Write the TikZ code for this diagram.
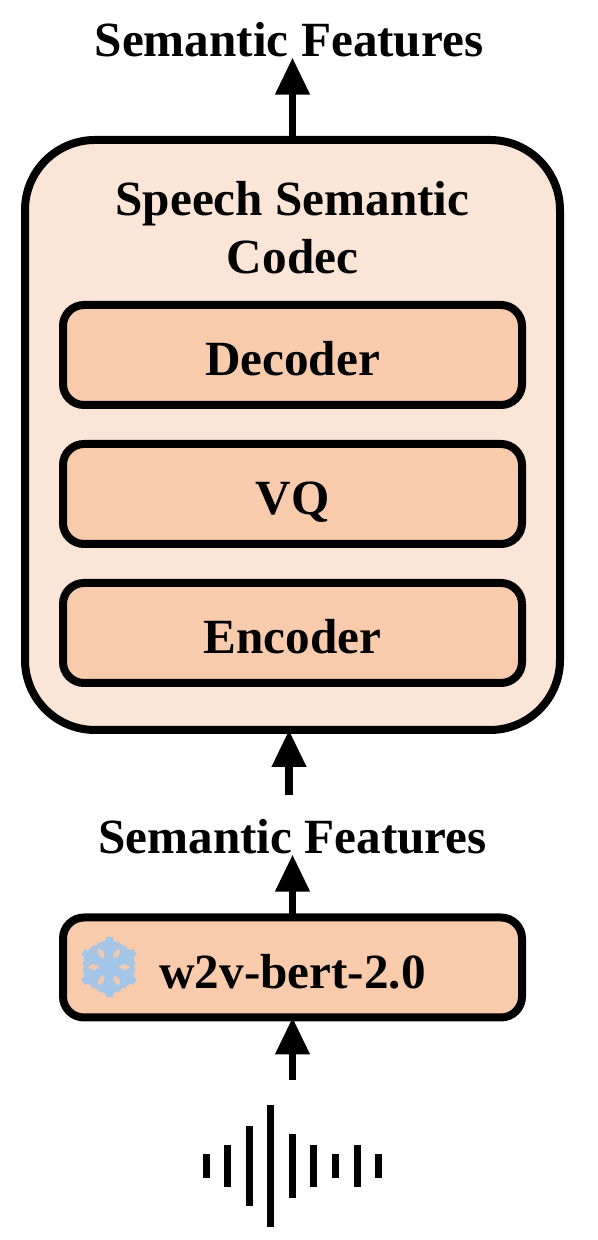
\documentclass[tikz,border=0pt]{standalone}
\usepackage{fontspec}
\setmainfont{Liberation Serif}
\usetikzlibrary{arrows.meta,positioning,calc}
\definecolor{codecBg}{RGB}{251,229,214}
\definecolor{blockBg}{RGB}{248,203,173}
\definecolor{flakeB}{RGB}{163,198,232}
\definecolor{flakeG}{RGB}{186,196,210}

\begin{document}
\begin{tikzpicture}[
  codec/.style={draw=black, line width=0.16cm, rounded corners=1.4cm, fill=codecBg, minimum width=10.7cm, minimum height=11.8cm, outer sep=0pt},
  block/.style={draw=black, line width=0.16cm, rounded corners=0.42cm, fill=blockBg, minimum width=9.18cm, minimum height=2cm, outer sep=0pt},
  lab/.style={font=\fontsize{28}{33}\selectfont\bfseries, align=center, inner sep=0pt, outer sep=0pt},
  arr/.style={-{Triangle[length=0.74cm,width=0.66cm]}, line width=0.15cm, black},
  bar/.style={line width=0.14cm, black}
]
  \useasboundingbox (0,0) rectangle (11.96,24.8);

  % outer box and its title
  \node[codec] (ssc) at (5.85,16.1) {};
  \node[lab] (title) at (5.85,20.24) {Speech Semantic\\Codec};

  % inner blocks
  \node[block] (dec) at (5.85,17.7)  {};
  \node[block] (vq)  at (5.85,14.92) {};
  \node[block] (enc) at (5.85,12.14) {};
  \node[block] (w2v) at (5.85,5.45)  {};
  \node[lab] at (5.85,17.62) {Decoder};
  \node[lab] at (5.85,14.76) {VQ};
  \node[lab] at (5.85,12.06) {Encoder};
  \node[lab] at (5.85,5.36)  {w2v-bert-2.0};

  % feature labels
  \node[lab,anchor=base] (top) at (5.78,23.66) {Semantic Features};
  \node[lab,anchor=base] (mid) at (5.85,7.72)  {Semantic Features};

  % free ends below
  \coordinate (gap) at (5.78,8.9);
  \coordinate (wav) at (5.85,3.2);

  \draw[arr] (ssc.north) -- (ssc.north |- top.south);
  \draw[arr] (gap) -- (gap |- ssc.south);
  \draw[arr] (w2v.north) -- (mid.south);
  \draw[arr] (wav) -- (w2v.south);

  % frozen mark
  \begin{scope}[shift={(2.18,5.46)}]
    \fill[flakeB] (30:0.58) -- (90:0.58) -- (150:0.58) -- (210:0.58) -- (270:0.58) -- (330:0.58) -- cycle;
    \foreach \a in {30,90,...,330} {
      \draw[flakeB, line width=0.14cm, rotate=\a] (0,0) -- (0.6,0);
      \draw[flakeB, line width=0.11cm, rotate=\a] (0.33,0) -- ++(60:0.26) (0.33,0) -- ++(-60:0.26);
      \draw[flakeG, line width=0.025cm, rotate=\a] (0.38,0.07) -- ++(60:0.18) (0.38,-0.07) -- ++(-60:0.18);
    }
    \foreach \a in {0,60,...,300} {
      \fill[blockBg!85!flakeG, rotate=\a] (0.2,0) .. controls (0.26,0.08) and (0.36,0.07) .. (0.42,0) .. controls (0.36,-0.07) and (0.26,-0.08) .. (0.2,0);
    }
  \end{scope}

  % waveform
  \foreach \x/\h [count=\i] in {4.12/0.24,4.54/0.42,4.98/0.8,5.4/1.22,5.84/0.64,6.26/0.42,6.7/0.24,7.14/0.42,7.56/0.24} {
    \draw[bar] (\x,1.48-\h) -- (\x,1.48+\h);
  }
\end{tikzpicture}
\end{document}
